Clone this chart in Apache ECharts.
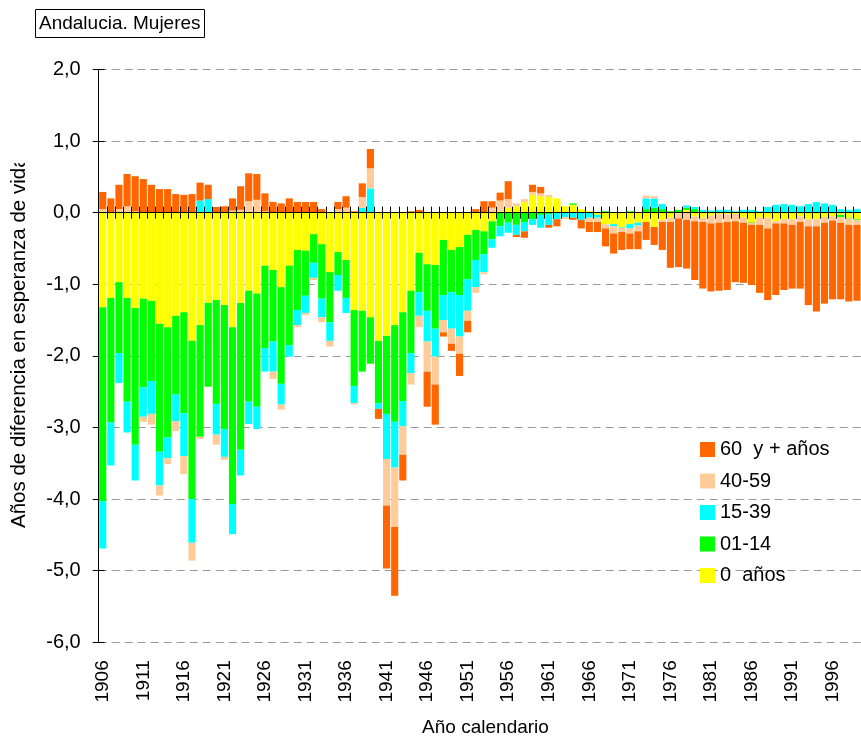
<!DOCTYPE html>
<html>
<head>
<meta charset="utf-8">
<script src="https://cdn.jsdelivr.net/npm/echarts@6/dist/echarts.min.js"></script>
<style>
  html, body { margin: 0; padding: 0; background: #fff; }
  #chart { width: 861px; height: 739px; }
</style>
</head>
<body>
<div id="chart"></div>
<script>
// calendar years 1906..1999
var years = [];
for (var y = 1906; y <= 1999; y++) years.push(String(y));

var yTicks = { min: -6, max: 2, step: 1 };

// contribution of each age group to the gap, by year
var age0 = [
  -1.32,-1.19,-0.97,-1.19,-1.33,-1.20,-1.23,-1.55,-1.60,-1.44,
  -1.39,-1.79,-1.57,-1.26,-1.22,-1.29,-1.60,-1.26,-1.09,-1.13,
  -0.74,-0.80,-1.04,-0.74,-0.52,-0.53,-0.30,-0.44,-0.83,-0.55,
  -0.66,-1.36,-1.37,-1.46,-1.79,-1.72,-1.57,-1.39,-1.09,-0.56,
  -0.72,-0.73,-0.38,-0.52,-0.48,-0.31,-0.24,-0.26,-0.12,0.02,
  0.07,0.09,0.15,0.25,0.23,0.22,0.20,0.09,0.11,0.05,
  0.02,-0.03,-0.16,-0.16,-0.20,-0.16,-0.14,-0.13,-0.20,-0.10,
  -0.07,-0.01,0.04,-0.05,-0.07,-0.04,-0.02,-0.02,-0.02,-0.07,
  -0.13,-0.07,-0.07,-0.12,-0.09,-0.09,-0.05,-0.09,-0.09,-0.06,
  -0.05,-0.03,-0.07,-0.09
];
var age1_14 = [
  -2.71,-1.74,-0.99,-1.45,-1.91,-1.24,-1.12,-1.79,-1.54,-1.10,
  -1.41,-2.21,-1.56,-1.17,-1.45,-1.73,-2.47,-2.05,-1.55,-1.58,
  -1.15,-1.00,-1.35,-1.11,-0.84,-0.63,-0.40,-0.76,-0.70,-0.32,
  -0.53,-1.06,-0.85,-0.65,-0.87,-1.09,-1.35,-1.24,-0.87,-0.55,
  -0.65,-0.89,-0.77,-0.59,-0.67,-0.62,-0.42,-0.32,-0.25,-0.19,
  -0.14,-0.17,-0.13,-0.09,-0.03,-0.02,0,0,0.02,0,
  0,0,0.02,0,0,0.02,0,0.05,0.07,0.05,
  0.02,0.04,0.03,0.05,0,0.01,0,0,0,0,
  -0.01,0,0,0,0,0,0,0,0,0,
  0,-0.03,-0.01,-0.01
];
var age15_39 = [
  -0.66,-0.60,-0.42,-0.43,-0.50,-0.41,-0.46,-0.47,-0.29,-0.37,
  -0.60,-0.61,0.17,0.19,-0.43,-0.39,-0.42,-0.36,-0.31,-0.31,
  -0.33,-0.42,-0.29,-0.16,-0.21,-0.24,-0.21,-0.26,-0.26,-0.22,
  -0.21,-0.24,0.07,0.34,-0.08,-0.63,-0.64,-0.35,-0.28,-0.33,
  -0.43,-0.39,-0.35,-0.51,-0.58,-0.44,-0.38,-0.25,-0.12,-0.14,
  -0.14,-0.14,-0.13,-0.08,-0.18,-0.15,-0.09,-0.06,-0.07,-0.10,
  -0.07,-0.04,0,-0.03,-0.01,-0.06,-0.04,0.15,0.13,0.07,
  0,0,0.03,0.03,0.04,0.02,0.04,0.04,0.02,0.04,
  0.04,0.02,0.08,0.11,0.12,0.11,0.09,0.12,0.15,0.13,
  0.11,0.05,0.04,0.05
];
var age40_59 = [
  0.05,0,0.05,0.09,0.02,-0.07,-0.15,-0.14,-0.08,-0.14,
  -0.25,-0.25,-0.03,0,-0.14,-0.04,0.03,0.04,0.16,0.18,
  0.02,-0.10,-0.07,0,-0.03,-0.03,-0.03,-0.07,-0.08,0.05,
  0.07,-0.02,0.15,0.28,0,-0.65,-0.83,-0.40,-0.16,-0.16,
  -0.42,-0.39,-0.17,-0.21,-0.24,-0.14,-0.08,-0.03,0.07,0.15,
  0.12,0.04,0.04,0.04,0.04,0.03,0,-0.03,0,0,
  -0.06,-0.06,-0.06,-0.10,-0.06,-0.07,-0.08,0.04,0.03,-0.03,
  -0.06,-0.07,-0.10,-0.07,-0.06,-0.11,-0.12,-0.11,-0.10,-0.07,
  -0.03,-0.10,-0.15,-0.03,-0.06,-0.08,-0.08,-0.10,-0.10,-0.08,
  -0.06,-0.08,-0.09,-0.07
];
var age60 = [
  0.24,0.20,0.34,0.45,0.49,0.47,0.39,0.33,0.33,0.26,
  0.25,0.26,0.25,0.20,0.08,0.09,0.17,0.33,0.39,0.36,
  0.25,0.15,0.13,0.20,0.15,0.15,0.15,0.05,0.01,0.10,
  0.16,0.02,0.19,0.27,-0.14,-0.88,-0.96,-0.36,0.02,0.04,
  -0.49,-0.56,-0.06,-0.10,-0.31,-0.16,0.05,0.16,0.09,0.11,
  0.25,-0.03,-0.09,0.10,0.09,-0.04,-0.10,0,-0.03,-0.12,
  -0.14,-0.14,-0.25,-0.28,-0.25,-0.22,-0.25,-0.25,-0.25,-0.39,
  -0.64,-0.68,-0.68,-0.82,-0.93,-0.95,-0.95,-0.95,-0.85,-0.84,
  -0.84,-0.95,-1.00,-1.00,-0.93,-0.89,-0.93,-1.10,-1.19,-1.13,
  -1.10,-1.07,-1.07,-1.06
];

var names = ['0  años', '01-14', '15-39', '40-59', '60  y + años'];
var colors = ['#FFFF00', '#00FF00', '#00FFFF', '#FFCC99', '#FF6600'];
var groups = [age0, age1_14, age15_39, age40_59, age60];

var font = "'Liberation Sans', Arial, sans-serif";

var chart = echarts.init(document.getElementById('chart'));

var series = groups.map(function (d, i) {
    return {
        name: names[i],
        type: 'bar',
        stack: 'total',
        stackStrategy: 'samesign',
        barCategoryGap: '12%',
        xAxisIndex: 0,
        yAxisIndex: 0,
        itemStyle: { color: colors[i] },
        data: d
    };
});

// zero line with ticks crossing it (one axis ticks down, one ticks up)
function zeroAxis(inside) {
    return {
        type: 'category',
        data: years,
        position: 'bottom',
        z: 5,
        axisLine: { show: true, onZero: true, lineStyle: { color: '#000', width: 1 } },
        axisTick: { show: true, inside: inside, interval: 0, length: 6, lineStyle: { color: '#000' } },
        axisLabel: { show: false },
        splitLine: { show: false }
    };
}

var option = {
    animation: false,
    textStyle: { fontFamily: font },
    title: {
        text: 'Andalucia. Mujeres',
        left: 35,
        top: 9,
        padding: [5, 4],
        borderColor: '#000',
        borderWidth: 1,
        textStyle: { fontSize: 19, fontWeight: 'normal', color: '#000', fontFamily: font }
    },
    legend: {
        orient: 'vertical',
        left: 695,
        top: 434.5,
        itemWidth: 15,
        itemHeight: 15,
        itemGap: 11.5,
        icon: 'rect',
        selectedMode: false,
        data: ['60  y + años', '40-59', '15-39', '01-14', '0  años'],
        textStyle: { fontSize: 20, color: '#000', fontFamily: font }
    },
    grid: { left: 98.7, top: 69.5, right: -2.9, bottom: 96.7 },
    xAxis: [
        {
            type: 'category',
            data: years,
            position: 'bottom',
            axisLine: { show: false, onZero: false },
            axisTick: { show: false },
            axisLabel: { interval: 4, rotate: 90, fontSize: 19, margin: 18, color: '#000', fontFamily: font },
            splitLine: { show: false }
        },
        zeroAxis(false),
        zeroAxis(true)
    ],
    yAxis: [
        {
            type: 'value',
            position: 'left',
            min: yTicks.min,
            max: yTicks.max,
            interval: yTicks.step,
            axisLine: { show: true, lineStyle: { color: '#000' } },
            axisTick: { show: true, length: 6, lineStyle: { color: '#000' } },
            axisLabel: {
                fontSize: 20, margin: 18, color: '#000', fontFamily: font,
                formatter: function (v) { return v.toFixed(1).replace('.', ','); }
            },
            splitLine: { show: true, lineStyle: { color: '#999', type: [8, 5], width: 1 } }
        },
        {
            type: 'value',
            position: 'left',
            min: yTicks.min,
            max: yTicks.max,
            interval: yTicks.step,
            axisLine: { show: false },
            axisTick: { show: true, inside: true, length: 6, lineStyle: { color: '#000' } },
            axisLabel: { show: false },
            splitLine: { show: false }
        }
    ],
    graphic: [
        {
            type: 'text',
            x: 19,
            y: 528,
            rotation: Math.PI / 2,
            z: 10,
            style: {
                text: 'Años de diferencia en esperanza de vida',
                fontSize: 20.5,
                fontFamily: font,
                fill: '#000',
                align: 'left',
                verticalAlign: 'middle'
            }
        },
        {
            // the label is cut off at the top in the original
            type: 'rect',
            z: 11,
            shape: { x: 0, y: 120, width: 42, height: 43 },
            style: { fill: '#fff' }
        },
        {
            type: 'text',
            x: 485.5,
            y: 728,
            z: 10,
            style: {
                text: 'Año calendario',
                fontSize: 19,
                fontFamily: font,
                fill: '#000',
                align: 'center',
                verticalAlign: 'middle'
            }
        }
    ],
    series: series
};

chart.setOption(option);
</script>
</body>
</html>
